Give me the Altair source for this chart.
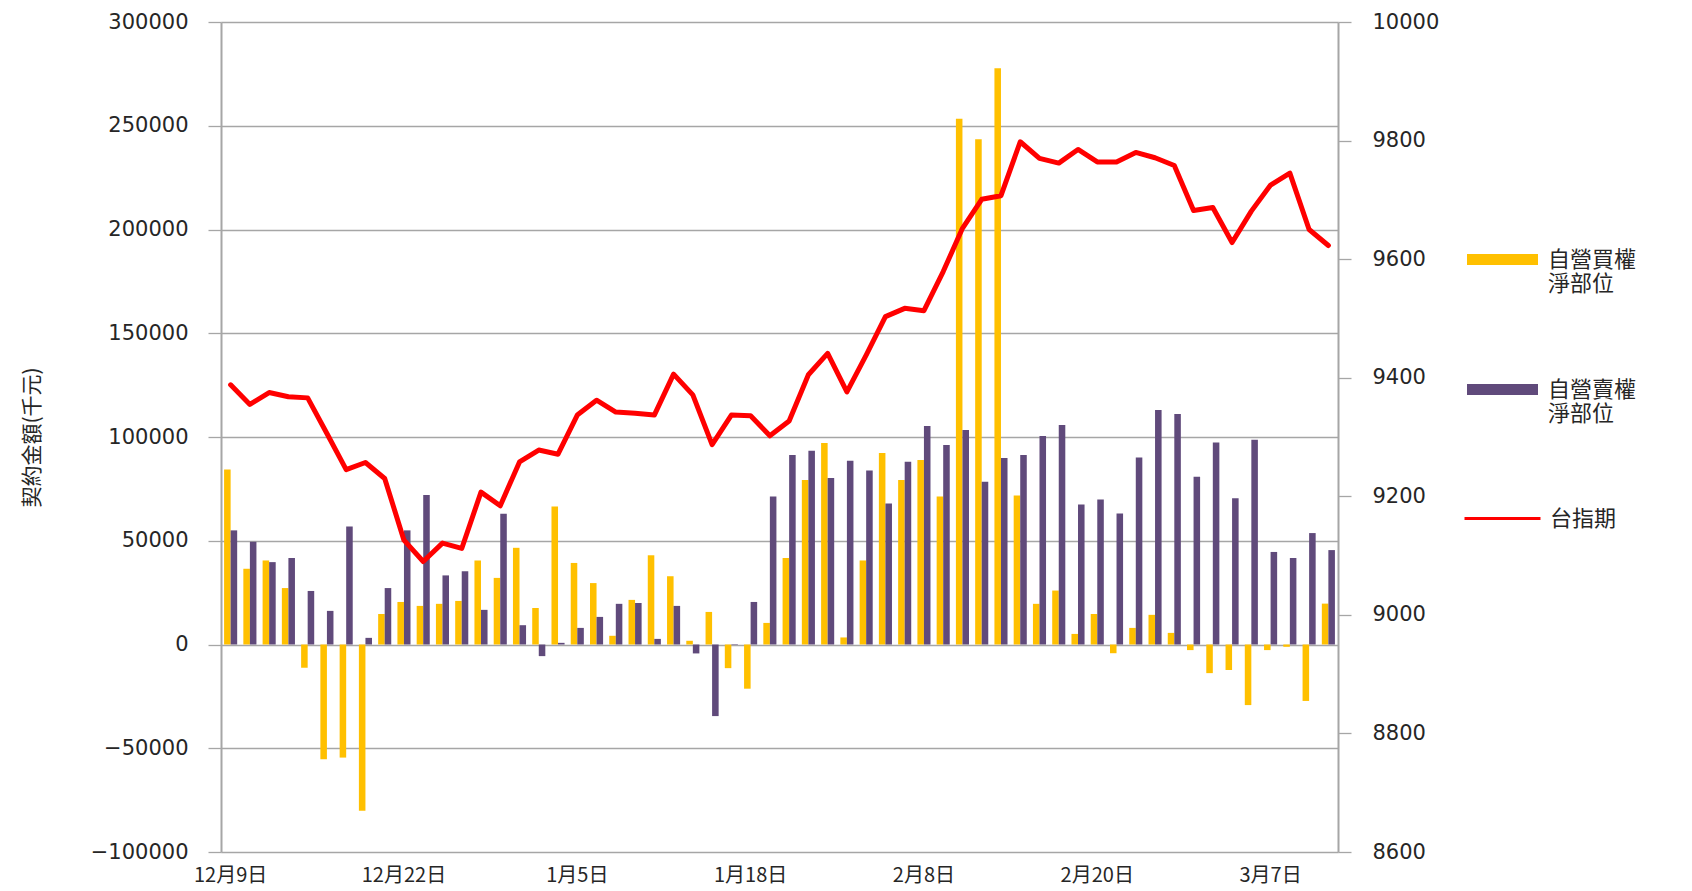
import altair as alt
import pandas as pd

categories = [
    "12月9日", "12月10日", "12月11日", "12月12日", "12月15日", "12月16日", "12月17日", "12月18日", "12月19日",
    "12月22日", "12月23日", "12月24日", "12月25日", "12月26日", "12月29日", "12月30日", "12月31日", "1月2日",
    "1月5日", "1月6日", "1月7日", "1月8日", "1月9日", "1月12日", "1月13日", "1月14日", "1月15日",
    "1月18日", "1月19日", "1月21日", "1月23日", "1月26日", "1月28日", "1月30日", "2月3日", "2月5日",
    "2月8日", "2月9日", "2月10日", "2月11日", "2月12日", "2月13日", "2月16日", "2月17日", "2月18日",
    "2月20日", "2月23日", "2月24日", "2月25日", "2月26日", "2月27日", "3月2日", "3月3日", "3月4日",
    "3月7日", "3月9日", "3月10日", "3月11日",
]

buy_net = [84300, 36500, 40500, 27200, -11200, -55300, -54500, -80100, 14700, 20500,
           18600, 19600, 21000, 40500, 32100, 46600, 17600, 66500, 39300, 29600,
           4200, 21500, 43000, 32900, 1800, 15700, -11400, -21300, 10400, 41700,
           79300, 97100, 3400, 40500, 92300, 79300, 88900, 71300, 253400, 243500,
           277700, 71800, 19600, 26000, 5100, 14700, -4200, 8000, 14300, 5600,
           -2700, -13800, -12300, -29200, -2700, -1100, -27200, 19700]

sell_net = [55000, 49500, 39700, 41700, 25800, 16200, 56900, 3200, 27200, 55000,
            72100, 33300, 35300, 16700, 63000, 9300, -5600, 800, 8000, 13300,
            19600, 20000, 2700, 18600, -4300, -34500, 300, 20500, 71300, 91300,
            93400, 80300, 88600, 83800, 68000, 88100, 105300, 96200, 103400, 78400,
            89900, 91300, 100500, 105800, 67500, 69900, 63100, 90100, 113000, 111100,
            80900, 97300, 70500, 98700, 44600, 41700, 53700, 45500]

futures = [9388, 9355, 9375, 9368, 9366, 9306, 9245, 9257, 9230, 9126,
           9090, 9121, 9112, 9207, 9184, 9258, 9278, 9271, 9337, 9362,
           9342, 9340, 9337, 9406, 9371, 9287, 9337, 9336, 9302, 9327,
           9405, 9441, 9376, 9438, 9503, 9517, 9513, 9579, 9652, 9701,
           9707, 9798, 9770, 9762, 9785, 9764, 9764, 9780, 9771, 9758,
           9682, 9687, 9628, 9681, 9725, 9745, 9650, 9623]

tick_labels = ["12月9日", "12月22日", "1月5日", "1月18日", "2月8日", "2月20日", "3月7日"]
series_names = ["自營買權淨部位", "自營賣權淨部位"]
line_name = "台指期"
left_ticks = [-100000, -50000, 0, 50000, 100000, 150000, 200000, 250000, 300000]
right_ticks = [8600, 8800, 9000, 9200, 9400, 9600, 9800, 10000]

bars_df = pd.DataFrame({
    "date": categories * 2,
    "series": [series_names[0]] * len(categories) + [series_names[1]] * len(categories),
    "value": buy_net + sell_net,
})
line_df = pd.DataFrame({"date": categories, "value": futures, "name": [line_name] * len(categories)})

TXT = "#262626"
GRAY = "#a6a6a6"
CJK = "Noto Sans CJK TC"

x_enc = alt.X(
    "date:N", sort=categories,
    scale=alt.Scale(domain=categories, paddingInner=0.32, paddingOuter=0.16),
    axis=alt.Axis(values=tick_labels, title=None, labelAngle=0, ticks=False, tickSize=0,
                  domain=False, grid=False, labelFont=CJK, labelFontSize=20,
                  labelPadding=13, labelColor=TXT, labelBaseline="top"),
)

bars = alt.Chart(bars_df).mark_bar().encode(
    x=x_enc,
    xOffset=alt.XOffset("series:N", scale=alt.Scale(domain=series_names, paddingInner=0, paddingOuter=0)),
    y=alt.Y("value:Q",
            scale=alt.Scale(domain=[-100000, 300000], nice=False, zero=False),
            axis=alt.Axis(values=left_ticks, format="d", grid=True, gridColor=GRAY, gridWidth=1.3,
                          domainColor=GRAY, domainWidth=2, tickColor=GRAY, tickSize=13, tickWidth=1.3,
                          labelFont="DejaVu Sans", labelFontSize=21, labelColor=TXT, labelPadding=20,
                          title="契約金額(千元)", titleFont=CJK, titleFontSize=21, titleFontWeight="normal",
                          titleColor=TXT, titleX=-189, titleY=415, titleAngle=270,
                          titleBaseline="middle", titleAlign="center")),
    color=alt.Color("series:N",
                    scale=alt.Scale(domain=series_names, range=["#FFC000", "#604A7B"]),
                    legend=alt.Legend(orient="none", legendX=1246, legendY=202, title=None,
                                      symbolType="M-1,-0.155L1,-0.155L1,0.155L-1,0.155Z",
                                      symbolSize=5041, symbolStrokeWidth=0,
                                      labelFont=CJK, labelFontSize=22, labelColor=TXT, labelOffset=10,
                                      rowPadding=59, padding=0, labelLimit=300,
                                      labelExpr="datum.value == '自營買權淨部位' ? ['自營買權', '淨部位'] : ['自營賣權', '淨部位']")),
)

line = alt.Chart(line_df).mark_line(strokeWidth=5, strokeJoin="round", strokeCap="round").encode(
    x=x_enc,
    y=alt.Y("value:Q",
            scale=alt.Scale(domain=[8600, 10000], nice=False, zero=False),
            axis=alt.Axis(orient="right", values=right_ticks, format="d", grid=False,
                          domainColor=GRAY, domainWidth=2, tickColor=GRAY, tickSize=13, tickWidth=1.3,
                          labelFont="DejaVu Sans", labelFontSize=21, labelColor=TXT, labelPadding=21,
                          title=None)),
    stroke=alt.Stroke("name:N", scale=alt.Scale(domain=[line_name], range=["#FF0000"]),
                      legend=alt.Legend(orient="none", legendX=1242, legendY=457, title=None,
                                        symbolType="stroke", symbolSize=5776, symbolStrokeWidth=3,
                                        labelFont=CJK, labelFontSize=22, labelColor=TXT, labelOffset=8,
                                        padding=0)),
)

chart = alt.layer(bars, line).resolve_scale(
    y="independent", color="independent", stroke="independent"
).properties(
    width=1117, height=830,
    autosize=alt.AutoSizeParams(type="none"),
    padding={"left": 213, "top": 14, "right": 346, "bottom": 36},
    background="white",
).configure_view(stroke=None)

chart.save("out.html", embed_options={"renderer": "svg", "actions": False})
